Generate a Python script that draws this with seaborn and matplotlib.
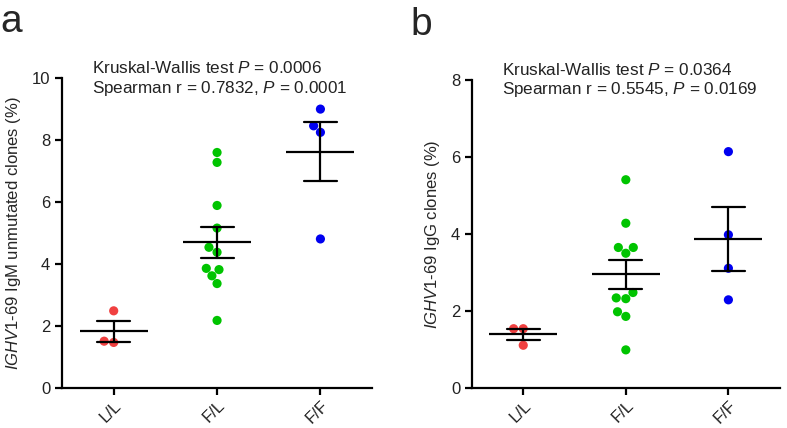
import numpy as np
import pandas as pd
import matplotlib
matplotlib.use("Agg")
import matplotlib.pyplot as plt
import seaborn as sns

sns.set_theme(style="ticks")
plt.rcParams["font.family"] = ["Liberation Sans", "DejaVu Sans"]
plt.rcParams["mathtext.fontset"] = "custom"
plt.rcParams["mathtext.rm"] = "Liberation Sans"
plt.rcParams["mathtext.it"] = "Liberation Sans:italic"

# Genotype groups
groups = ["L/L", "F/L", "F/F"]
palette = ["#F04040", "#00C400", "#0000F0"]

# Panel a: IgM unmutated clones (%)
igm_ll = [2.49, 1.47, 1.51]
igm_fl = [7.60, 7.28, 5.89, 5.16, 4.54, 4.38, 3.82, 3.86, 3.62, 3.37, 2.18]
igm_ff = [9.00, 8.46, 8.25, 4.81]

# Panel b: IgG clones (%)
igg_ll = [1.54, 1.54, 1.11]
igg_fl = [5.41, 4.28, 3.65, 3.65, 3.50, 2.48, 2.32, 2.34, 1.98, 1.86, 0.99]
igg_ff = [6.14, 3.98, 3.11, 2.29]

stats_a = ["Kruskal-Wallis test $P$ = 0.0006", "Spearman r = 0.7832, $P$ = 0.0001"]
stats_b = ["Kruskal-Wallis test $P$ = 0.0364", "Spearman r = 0.5545, $P$ = 0.0169"]


def make_df(ll, fl, ff):
    return pd.DataFrame({
        "group": ["L/L"] * len(ll) + ["F/L"] * len(fl) + ["F/F"] * len(ff),
        "value": ll + fl + ff,
    })


def panel(ax, df, ymax, ylabel, stats, letter):
    sns.swarmplot(data=df, x="group", y="value", hue="group", order=groups,
                  hue_order=groups, palette=palette, size=6.6, ax=ax,
                  legend=False, zorder=2)
    sns.pointplot(data=df, x="group", y="value", order=groups, errorbar="se",
                  capsize=0.32, color="black", linestyle="none", marker="_",
                  markersize=49, markeredgewidth=1.6, err_kws={"linewidth": 1.6},
                  ax=ax, zorder=3)
    ax.set_xlim(-0.5, 2.5)
    ax.set_ylim(0, ymax)
    ax.set_yticks(np.arange(0, ymax + 1, 2))
    ax.set_xlabel("")
    ax.set_ylabel(ylabel, fontsize=12, labelpad=6)
    sns.despine(ax=ax)
    for s in ["left", "bottom"]:
        ax.spines[s].set_color("black")
        ax.spines[s].set_linewidth(1.6)
    ax.tick_params(axis="both", length=5, width=1.6, color="black",
                   labelsize=12, labelcolor="#222222")
    ax.tick_params(axis="x", pad=2)
    for lab in ax.get_xticklabels():
        lab.set_rotation(45)
        lab.set_ha("right")
        lab.set_va("top")
        lab.set_rotation_mode("anchor")
    ax.text(0.097, 1.032, stats[0], transform=ax.transAxes, fontsize=12.3,
            va="center", ha="left", color="#222222")
    ax.text(0.097, 0.968, stats[1], transform=ax.transAxes, fontsize=12.3,
            va="center", ha="left", color="#222222")
    ax.text(-0.2, 1.18, letter, transform=ax.transAxes, fontsize=28,
            va="center", ha="left")


fig = plt.figure(figsize=(7.87, 4.28), dpi=100)
ax_a = fig.add_axes([0.0788, 0.0935, 0.394, 0.724])
ax_b = fig.add_axes([0.5997, 0.0935, 0.391, 0.7195])

panel(ax_a, make_df(igm_ll, igm_fl, igm_ff), 10,
      "$\\mathit{IGHV1}$-$\\mathit{69}$ IgM unmutated clones (%)", stats_a, "a")
panel(ax_b, make_df(igg_ll, igg_fl, igg_ff), 8,
      "$\\mathit{IGHV1}$-$\\mathit{69}$ IgG clones (%)", stats_b, "b")

fig.savefig("out.png", dpi=100)
